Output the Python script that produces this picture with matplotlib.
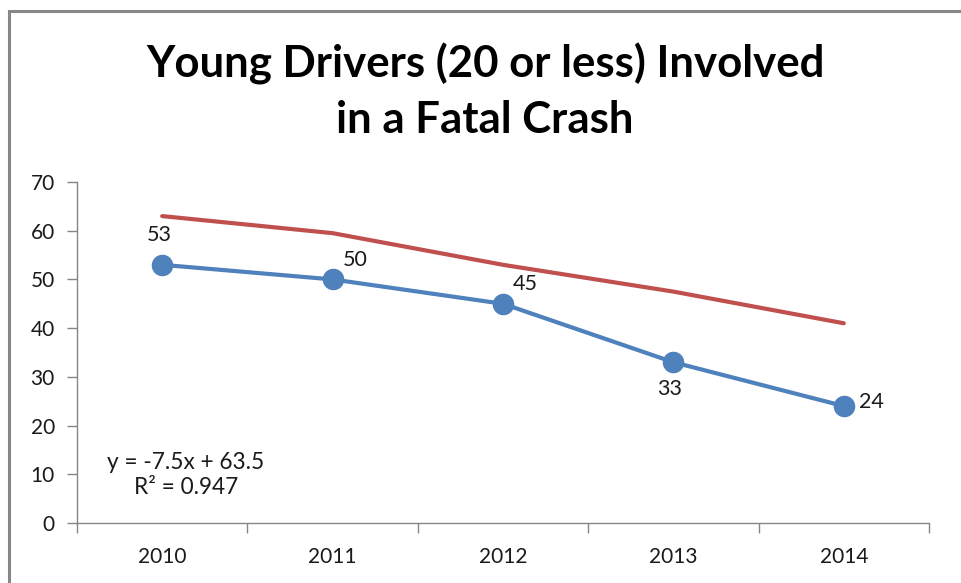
import matplotlib
matplotlib.use("Agg")
import matplotlib.pyplot as plt
from matplotlib.patches import Rectangle

years = ["2010", "2011", "2012", "2013", "2014"]
drivers = [53, 50, 45, 33, 24]
upper_line = [63, 59.5, 53, 47.5, 41]
y_ticks = [0, 10, 20, 30, 40, 50, 60, 70]
title = "Young Drivers (20 or less) Involved\nin a Fatal Crash"
equation = "y = -7.5x + 63.5\nR² = 0.947"

plt.rcParams['font.family'] = ['Lato', 'DejaVu Sans']

fig = plt.figure(figsize=(9.61, 5.83), dpi=100)
W, H = 961, 583
# chart frame
fig.patches.append(Rectangle((9 / W, -0.05), 1.0, (H - 11) / H + 0.05, transform=fig.transFigure,
                             fill=False, edgecolor='#878787', linewidth=2.2))

ax = fig.add_axes([77 / W, (H - 523) / H, (929 - 77) / W, (523 - 182) / H])
x = list(range(len(years)))
ax.plot(x, upper_line, color='#C0504D', linewidth=3, solid_capstyle='round', zorder=2)
ax.plot(x, drivers, color='#4F81BD', linewidth=3, marker='o', markersize=14.5, zorder=3)

offsets = [(-2, 14, 'center', 'bottom'), (7, 7, 'left', 'bottom'), (7, 7, 'left', 'bottom'),
           (-3, -12, 'center', 'top'), (11, 3, 'left', 'center')]
for xi, v, (dx, dy, ha, va) in zip(x, drivers, offsets):
    ax.annotate(str(v), (xi, v), xytext=(dx, dy), textcoords='offset points',
                ha=ha, va=va, fontsize=15.5, color='#1a1a1a')

ax.set_xlim(-0.5, len(years) - 0.5)
ax.set_ylim(0, 70)
ax.set_yticks(y_ticks)
ax.set_xticks(x)
ax.set_xticklabels(years)
ax.set_xticks([i - 0.5 for i in range(len(years) + 1)], minor=True)
ax.tick_params(axis='x', which='major', length=0, pad=17, labelsize=15, labelcolor='#1a1a1a')
ax.tick_params(axis='x', which='minor', length=7, color='#868686', width=1)
ax.tick_params(axis='y', length=7, color='#868686', width=1, pad=9, labelsize=15, labelcolor='#1a1a1a')
for s in ['top', 'right']:
    ax.spines[s].set_visible(False)
for s in ['left', 'bottom']:
    ax.spines[s].set_color('#868686')
    ax.spines[s].set_linewidth(1)

ax.text(186 / W, (H - 475) / H, equation, transform=fig.transFigure, ha='center', va='center',
        fontsize=16.3, color='#1a1a1a', linespacing=1.25)

fig.text(485 / W, (H - 91) / H, title, ha='center', va='center', fontsize=31.5, fontweight='bold',
         color='black', linespacing=1.45)

fig.savefig("out.png", dpi=100)
